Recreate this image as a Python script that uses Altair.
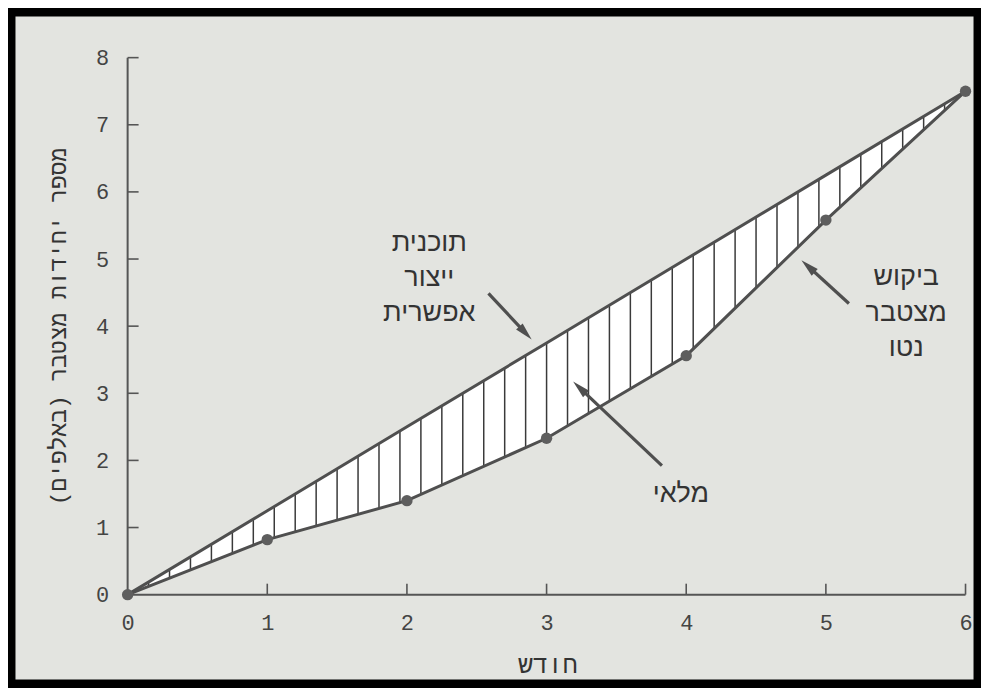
import altair as alt
import pandas as pd
import numpy as np

# ---------------- data ----------------
months = [0, 1, 2, 3, 4, 5, 6]
plan = [0.0, 1.25, 2.5, 3.75, 5.0, 6.25, 7.5]          # תוכנית ייצור אפשרית
demand = [0.0, 0.82, 1.40, 2.33, 3.56, 5.58, 7.5]      # ביקוש מצטבר נטו
x_ticks = [0, 1, 2, 3, 4, 5, 6]
y_ticks = [0, 1, 2, 3, 4, 5, 6, 7, 8]
hatch_step = 0.15

plan_label = ["תוכנית", "ייצור", "אפשרית"]
demand_label = ["ביקוש", "מצטבר", "נטו"]
stock_label = ["מלאי"]
x_title = "חודש"
y_title = "מספר יחידות מצטבר (באלפים)"

# annotation arrows (tail -> tip), data units
arrow_tail_x = [2.584, 3.826, 5.165]
arrow_tail_y = [4.487, 1.922, 4.338]
arrow_tip_x = [2.893, 3.190, 4.825]
arrow_tip_y = [3.800, 3.174, 4.982]

# ---------------- layout ----------------
W, H = 976, 680
XD = [-0.8566, 6.1108]
YD = [-1.375, 8.724]
PX = W / (XD[1] - XD[0])
PY = H / (YD[1] - YD[0])
BG = "#e3e4e0"
INK = "#4f4f4f"

xs = alt.Scale(domain=XD, nice=False, zero=False)
ys = alt.Scale(domain=YD, nice=False, zero=False)

x_off = -(0 - XD[0]) * PX
y_off = (YD[1] - 0) * PY - H

df = pd.DataFrame({"month": months, "plan": plan, "demand": demand})

hx = np.round(np.arange(1, 40) * hatch_step, 4)
hatch = pd.DataFrame({
    "x": hx,
    "top": np.interp(hx, months, plan),
    "bot": np.interp(hx, months, demand),
})

tick_len_px = 11
rules = [{"x": 0, "x2": 6, "y": 0, "y2": 0, "w": 2},
         {"x": 0, "x2": 0, "y": 0, "y2": 8, "w": 2}]
for m in x_ticks[1:]:
    rules.append({"x": m, "x2": m, "y": 0, "y2": tick_len_px / PY, "w": 1.6})
for v in y_ticks[1:]:
    rules.append({"x": 0, "x2": tick_len_px / PX, "y": v, "y2": v, "w": 1.6})
rules = pd.DataFrame(rules)

# arrows
arr = []
for tx, ty, px_, py_ in zip(arrow_tail_x, arrow_tail_y, arrow_tip_x, arrow_tip_y):
    dxp = (px_ - tx) * PX
    dyp = -(py_ - ty) * PY
    L = np.hypot(dxp, dyp)
    ang = float(np.degrees(np.arctan2(dxp, -dyp)) % 360)
    f = 12.0 / L
    arr.append({"x": tx, "y": ty, "x2": px_ - f * (px_ - tx), "y2": py_ - f * (py_ - ty),
                "tx": px_, "ty": py_, "ang": ang})
arr = pd.DataFrame(arr)

labels = pd.DataFrame(
    [{"x": 2.16, "y": yy, "t": t} for t, yy in zip(plan_label, [5.234, 4.715, 4.20])]
    + [{"x": 5.575, "y": yy, "t": t} for t, yy in zip(demand_label, [4.73, 4.19, 3.67])]
    + [{"x": 3.962, "y": 1.506, "t": stock_label[0]}]
)

# ---------------- chart ----------------
x_axis = alt.Axis(values=x_ticks, format="d", grid=False, domain=False, ticks=False, tickSize=0,
                  labelPadding=18, labelFont="Liberation Mono", labelFontSize=22,
                  labelColor="#444444", offset=y_off, labelFlush=False,
                  title=x_title, titleX=541, titleY=70, titleFont="Liberation Mono",
                  titleFontSize=25, titleFontWeight="normal", titleColor="#333333",
                  titleBaseline="middle", titleAlign="center")
y_axis = alt.Axis(values=y_ticks, format="d", grid=False, domain=False, ticks=False, tickSize=0,
                  labelPadding=19, labelFont="Liberation Mono", labelFontSize=22,
                  labelColor="#444444", offset=x_off, labelFlush=False,
                  title=y_title + "\u200f", titleX=-69, titleY=318, titleAngle=270,
                  titleFont="Liberation Mono", titleFontSize=23, titleFontWeight="normal",
                  titleColor="#333333", titleBaseline="middle", titleAlign="center")

area = alt.Chart(df).mark_area(color="white", opacity=1).encode(
    x=alt.X("month:Q", scale=xs, axis=x_axis),
    y=alt.Y("plan:Q", scale=ys, axis=y_axis),
    y2="demand:Q",
)

hatch_l = alt.Chart(hatch).mark_rule(color="#3a3a3a", strokeWidth=1.5).encode(
    x=alt.X("x:Q", scale=xs), y=alt.Y("top:Q", scale=ys), y2="bot:Q")

axis_l = alt.Chart(rules).mark_rule(color="#555555").encode(
    x=alt.X("x:Q", scale=xs), x2="x2:Q",
    y=alt.Y("y:Q", scale=ys), y2="y2:Q",
    strokeWidth=alt.StrokeWidth("w:Q", scale=None))

plan_l = alt.Chart(df).mark_line(color=INK, strokeWidth=3).encode(
    x=alt.X("month:Q", scale=xs), y=alt.Y("plan:Q", scale=ys))
dem_l = alt.Chart(df).mark_line(color=INK, strokeWidth=3).encode(
    x=alt.X("month:Q", scale=xs), y=alt.Y("demand:Q", scale=ys))
dots = alt.Chart(df).mark_point(filled=True, size=130, color="#5e5e5e", opacity=1).encode(
    x=alt.X("month:Q", scale=xs), y=alt.Y("demand:Q", scale=ys))

shaft = alt.Chart(arr).mark_rule(color=INK, strokeWidth=3.2).encode(
    x=alt.X("x:Q", scale=xs), x2="x2:Q", y=alt.Y("y:Q", scale=ys), y2="y2:Q")
head = alt.Chart(arr).mark_point(shape="M0,0L-0.5,2L0.5,2Z", filled=True, size=324,
                                 color=INK, opacity=1).encode(
    x=alt.X("tx:Q", scale=xs), y=alt.Y("ty:Q", scale=ys),
    angle=alt.Angle("ang:Q", scale=None))

texts = alt.Chart(labels).mark_text(font="Liberation Sans", fontSize=27, color="#333333",
                                    baseline="middle", align="center").encode(
    x=alt.X("x:Q", scale=xs), y=alt.Y("y:Q", scale=ys), text="t:N")

chart = alt.layer(area, hatch_l, axis_l, plan_l, dem_l, dots, shaft, head, texts).properties(
    width=W, height=H,
    autosize=alt.AutoSizeParams(type="none"),
    padding=0,
    background="white",
).configure_view(fill=BG, stroke="black", strokeWidth=15)

chart.save("out.html", embed_options={"renderer": "svg", "actions": False})
